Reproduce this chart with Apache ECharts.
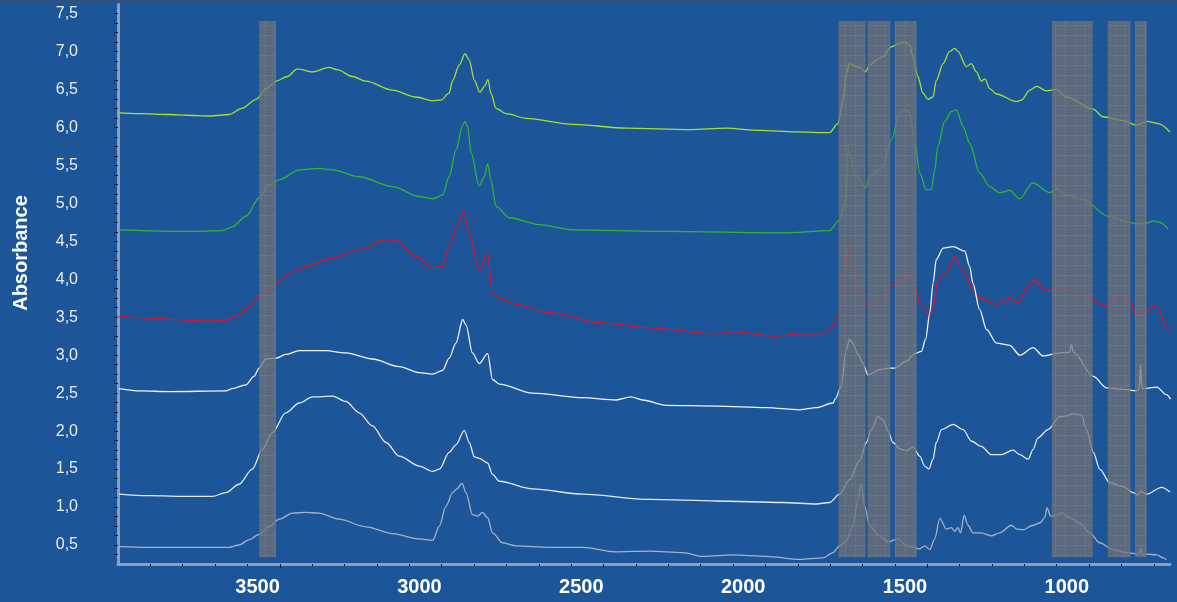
<!DOCTYPE html>
<html>
<head>
<meta charset="utf-8">
<title>Absorbance spectra</title>
<script src="https://cdn.jsdelivr.net/npm/echarts@6/dist/echarts.min.js"></script>
<style>
  html, body { margin: 0; padding: 0; background: #1c5699; }
  #chart { width: 1177px; height: 602px; }
</style>
</head>
<body>
<div id="chart"></div>
<script>
// Wavenumber (cm-1) / absorbance pairs for each spectrum, top to bottom
const spectrumLime = [[3999,6.19],[3935,6.18],[3842,6.17],[3787,6.16],[3716,6.15],[3657,6.17],[3617,6.25],[3573,6.37],[3542,6.51],[3511,6.61],[3477,6.67],[3446,6.77],[3399,6.73],[3348,6.79],[3322,6.76],[3276,6.67],[3234,6.61],[3152,6.49],[3080,6.40],[3028,6.35],[3002,6.36],[2977,6.45],[2966,6.62],[2946,6.82],[2928,6.97],[2915,6.89],[2899,6.62],[2882,6.46],[2868,6.54],[2857,6.63],[2848,6.45],[2832,6.25],[2801,6.18],[2739,6.12],[2595,6.04],[2430,5.99],[2234,5.97],[2121,5.99],[2018,5.96],[1905,5.94],[1802,5.93],[1776,6.05],[1760,6.36],[1750,6.71],[1740,6.84],[1719,6.80],[1709,6.79],[1691,6.73],[1678,6.82],[1657,6.89],[1637,6.93],[1611,7.06],[1585,7.11],[1570,7.13],[1554,7.08],[1544,6.93],[1529,6.67],[1513,6.45],[1498,6.37],[1482,6.40],[1472,6.62],[1451,6.84],[1431,7.00],[1415,7.04],[1405,7.00],[1379,6.80],[1364,6.84],[1348,6.73],[1333,6.61],[1322,6.64],[1307,6.51],[1286,6.44],[1224,6.34],[1209,6.36],[1183,6.49],[1162,6.54],[1132,6.48],[1101,6.50],[1070,6.40],[987,6.24],[957,6.14],[895,6.09],[853,6.03],[822,6.08],[786,6.05],[750,5.94]];

const spectrumGreen = [[3997,4.65],[3786,4.63],[3678,4.64],[3647,4.69],[3605,4.83],[3564,5.07],[3533,5.24],[3502,5.31],[3440,5.44],[3379,5.46],[3337,5.44],[3255,5.35],[3152,5.22],[3069,5.09],[3028,5.06],[2997,5.11],[2977,5.35],[2956,5.70],[2935,6.03],[2928,6.08],[2920,6.01],[2909,5.66],[2884,5.23],[2868,5.35],[2858,5.52],[2848,5.31],[2832,4.96],[2791,4.81],[2698,4.72],[2595,4.65],[2307,4.63],[1946,4.61],[1802,4.64],[1771,4.78],[1750,5.05],[1745,5.70],[1740,5.66],[1724,5.40],[1709,5.31],[1691,5.20],[1678,5.35],[1657,5.42],[1637,5.48],[1611,5.83],[1585,6.19],[1570,6.24],[1554,6.19],[1539,5.83],[1523,5.40],[1503,5.18],[1487,5.18],[1477,5.44],[1467,5.75],[1446,6.08],[1425,6.21],[1410,6.23],[1389,6.01],[1369,5.79],[1338,5.40],[1307,5.22],[1276,5.14],[1245,5.17],[1214,5.06],[1174,5.27],[1121,5.14],[1101,5.19],[1070,5.11],[1019,5.05],[941,4.83],[874,4.75],[853,4.73],[822,4.74],[802,4.77],[781,4.75],[756,4.66]];

const spectrumRed = [[3997,3.51],[3904,3.49],[3781,3.46],[3708,3.45],[3667,3.46],[3626,3.53],[3595,3.64],[3564,3.77],[3512,3.95],[3461,4.10],[3420,4.17],[3337,4.28],[3255,4.39],[3172,4.52],[3141,4.51],[3080,4.30],[3028,4.15],[2997,4.17],[2977,4.43],[2951,4.72],[2932,4.89],[2915,4.59],[2884,4.13],[2858,4.33],[2843,3.82],[2822,3.75],[2770,3.67],[2667,3.56],[2513,3.43],[2358,3.36],[2152,3.28],[2101,3.31],[1972,3.25],[1894,3.28],[1822,3.28],[1791,3.38],[1771,3.56],[1755,4.08],[1743,4.44],[1730,4.17],[1709,3.86],[1683,3.65],[1657,3.71],[1606,3.92],[1564,4.07],[1544,3.99],[1523,3.69],[1492,3.52],[1482,3.64],[1467,3.99],[1441,4.10],[1415,4.30],[1400,4.19],[1379,4.04],[1359,3.86],[1338,3.75],[1286,3.67],[1245,3.75],[1219,3.69],[1193,3.88],[1168,3.99],[1142,3.88],[1121,3.84],[1101,3.89],[1049,3.84],[998,3.75],[946,3.64],[905,3.81],[874,3.71],[853,3.52],[833,3.53],[802,3.65],[786,3.62],[761,3.36],[750,3.30]];

const spectrumWhiteA = [[3997,2.56],[3930,2.53],[3842,2.52],[3667,2.53],[3647,2.56],[3605,2.61],[3580,2.72],[3564,2.83],[3543,2.95],[3512,2.96],[3482,3.01],[3440,3.06],[3358,3.06],[3296,3.03],[3214,2.95],[3131,2.85],[3069,2.77],[3028,2.75],[2997,2.80],[2977,2.96],[2956,3.16],[2935,3.47],[2925,3.40],[2905,3.03],[2884,2.89],[2858,3.02],[2843,2.68],[2822,2.62],[2719,2.50],[2564,2.44],[2461,2.41],[2415,2.45],[2379,2.41],[2307,2.34],[2152,2.33],[1997,2.31],[1894,2.28],[1843,2.31],[1791,2.37],[1783,2.43],[1766,2.59],[1750,3.07],[1740,3.21],[1730,3.16],[1714,3.01],[1699,2.90],[1683,2.74],[1647,2.81],[1616,2.83],[1601,2.83],[1564,2.92],[1539,3.02],[1518,3.05],[1505,3.21],[1492,3.56],[1482,3.95],[1472,4.26],[1451,4.41],[1420,4.43],[1384,4.37],[1369,4.17],[1359,3.95],[1338,3.60],[1317,3.34],[1286,3.16],[1245,3.13],[1214,3.00],[1173,3.10],[1142,2.99],[1090,3.03],[1060,3.04],[1054,3.15],[1049,3.04],[987,2.72],[946,2.57],[895,2.55],[853,2.53],[845,2.56],[841,2.88],[837,2.58],[833,2.56],[791,2.58],[761,2.48],[748,2.42]];

const spectrumWhiteB = [[3997,1.17],[3909,1.15],[3770,1.14],[3708,1.14],[3667,1.19],[3626,1.30],[3585,1.50],[3554,1.76],[3523,1.98],[3482,2.24],[3440,2.37],[3399,2.45],[3337,2.46],[3296,2.39],[3255,2.24],[3214,2.07],[3172,1.85],[3131,1.67],[3069,1.54],[3028,1.47],[3007,1.50],[2977,1.72],[2956,1.82],[2930,2.01],[2915,1.85],[2899,1.66],[2884,1.64],[2858,1.58],[2843,1.43],[2822,1.34],[2719,1.24],[2564,1.17],[2358,1.10],[2152,1.08],[1946,1.06],[1843,1.04],[1802,1.06],[1771,1.17],[1740,1.36],[1709,1.61],[1688,1.85],[1673,2.02],[1652,2.19],[1637,2.15],[1621,2.00],[1606,1.85],[1585,1.77],[1564,1.74],[1544,1.79],[1523,1.67],[1508,1.54],[1495,1.50],[1482,1.63],[1472,1.85],[1456,2.02],[1420,2.09],[1389,2.02],[1364,1.87],[1333,1.80],[1302,1.69],[1271,1.69],[1235,1.75],[1214,1.69],[1188,1.63],[1173,1.76],[1158,1.91],[1127,2.02],[1090,2.19],[1070,2.20],[1049,2.23],[1023,2.21],[1008,2.02],[987,1.72],[967,1.50],[936,1.32],[895,1.27],[864,1.19],[848,1.16],[841,1.21],[822,1.17],[776,1.26],[750,1.20]];

const spectrumGrey = [[3997,0.48],[3914,0.47],[3729,0.47],[3657,0.47],[3626,0.50],[3595,0.57],[3564,0.64],[3533,0.74],[3502,0.84],[3461,0.92],[3420,0.93],[3379,0.92],[3317,0.84],[3234,0.74],[3152,0.65],[3069,0.58],[3028,0.56],[3007,0.75],[2987,1.01],[2966,1.19],[2956,1.23],[2937,1.31],[2925,1.19],[2905,0.90],[2889,0.88],[2874,0.93],[2858,0.86],[2843,0.66],[2812,0.53],[2770,0.49],[2667,0.47],[2564,0.47],[2461,0.41],[2358,0.42],[2255,0.40],[2193,0.35],[2101,0.37],[1997,0.35],[1894,0.31],[1822,0.33],[1791,0.40],[1771,0.49],[1750,0.55],[1730,0.75],[1714,1.10],[1704,1.30],[1693,1.01],[1678,0.75],[1647,0.62],[1621,0.54],[1590,0.58],[1564,0.49],[1523,0.45],[1508,0.49],[1492,0.44],[1477,0.58],[1461,0.85],[1441,0.71],[1425,0.73],[1415,0.68],[1405,0.73],[1397,0.66],[1386,0.89],[1374,0.76],[1359,0.66],[1333,0.66],[1302,0.62],[1276,0.66],[1240,0.76],[1224,0.71],[1204,0.70],[1173,0.76],[1152,0.79],[1137,0.86],[1130,0.99],[1119,0.88],[1101,0.89],[1085,0.93],[1060,0.86],[1029,0.79],[998,0.66],[967,0.53],[926,0.44],[884,0.40],[846,0.38],[841,0.46],[836,0.38],[822,0.38],[791,0.37],[771,0.33],[761,0.31]];

// Highlighted wavenumber windows [from, to] and their vertical extent
const bands = [[3564,3512],[1774,1691],[1684,1614],[1600,1533],[1115,989],[942,872],[858,822]];
const bandTop = 7.4;
const bandBottom = 0.34;

// Axis labels
const wavenumberLabels = [3500, 3000, 2500, 2000, 1500, 1000];
const absorbanceLabels = [0.5, 1.0, 1.5, 2.0, 2.5, 3.0, 3.5, 4.0, 4.5, 5.0, 5.5, 6.0, 6.5, 7.0, 7.5];

// tick positions: every 100 cm-1 (longer every 500), every 0.125 absorbance
const xMinorTicks = [];
for (let w = 800; w <= 3900; w += 100) if (w % 500 !== 0) xMinorTicks.push(w);
const yTicks = [];
for (let k = 3; k <= 60; k++) yTicks.push(k * 0.125);

const FONT = "'Liberation Sans', Arial, Helvetica, sans-serif";

// textured grey fill for the highlighted windows
function makeBandPattern() {
  const c = document.createElement('canvas');
  c.width = 10; c.height = 10;
  const g = c.getContext('2d');
  g.fillStyle = 'rgba(112,112,118,0.72)';
  g.fillRect(0, 0, 10, 10);
  g.fillStyle = 'rgba(130,130,134,0.25)';
  for (let i = 0; i < 10; i += 2) {
    for (let j = (i / 2) % 2; j < 10; j += 2) g.fillRect(i, j, 1, 1);
  }
  g.fillStyle = 'rgba(140,132,132,0.35)';
  g.fillRect(5, 0, 1, 10);
  g.fillRect(0, 5, 10, 1);
  return c;
}
const bandPattern = makeBandPattern();

function spectrumSeries(name, data, color) {
  return {
    name: name,
    type: 'line',
    data: data,
    symbol: 'none',
    showSymbol: false,
    smooth: 0.3,
    smoothMonotone: 'x',
    silent: true,
    z: 2,
    lineStyle: { color: color, width: 1.3 },
    emphasis: { disabled: true }
  };
}

const chart = echarts.init(document.getElementById('chart'), null, { renderer: 'canvas' });

chart.setOption({
  animation: false,
  backgroundColor: '#1c5699',
  grid: { left: 118, right: 7, top: 4, bottom: 38, containLabel: false, outerBoundsMode: 'none' },
  xAxis: [
    {
      type: 'value',
      min: 750,
      max: 4000,
      inverse: true,
      axisLine: { show: true, lineStyle: { color: '#8a9fc1', width: 3 } },
      axisTick: { show: true, customValues: xMinorTicks, length: 2, lineStyle: { color: '#0d1b30', width: 1 } },
      axisLabel: {
        customValues: wavenumberLabels,
        formatter: v => String(v),
        align: 'right',
        margin: 13,
        color: '#ffffff',
        fontSize: 20,
        fontWeight: 'bold',
        fontFamily: FONT
      },
      splitLine: { show: false }
    },
    {
      type: 'value',
      min: 750,
      max: 4000,
      inverse: true,
      position: 'bottom',
      axisLine: { show: false },
      axisTick: { show: true, customValues: wavenumberLabels, length: 4, lineStyle: { color: '#0d1b30', width: 1 } },
      axisLabel: { show: false },
      splitLine: { show: false }
    }
  ],
  yAxis: {
    type: 'value',
    min: 0.25,
    max: 7.625,
    axisLine: { show: true, lineStyle: { color: '#8a9fc1', width: 3 } },
    axisTick: { show: true, customValues: yTicks, length: 4, lineStyle: { color: '#0d1b30', width: 1 } },
    axisLabel: {
      customValues: absorbanceLabels,
      formatter: v => v.toFixed(1).replace('.', ','),
      margin: 40,
      color: '#e6ecf5',
      fontSize: 16,
      fontFamily: FONT
    },
    splitLine: { show: false }
  },
  graphic: [
    {
      type: 'rect',
      left: 0, top: 0, z: 100,
      shape: { width: 1177, height: 5 },
      style: {
        fill: new echarts.graphic.LinearGradient(0, 0, 0, 1, [
          { offset: 0, color: '#3a4e6e' },
          { offset: 1, color: 'rgba(28,86,153,0)' }
        ])
      },
      silent: true
    },
    {
      type: 'text',
      x: 21, y: 253,
      rotation: Math.PI / 2,
      z: 100,
      style: {
        text: 'Absorbance',
        fill: '#ffffff',
        font: 'bold 20px ' + FONT,
        textAlign: 'center',
        textVerticalAlign: 'middle'
      },
      silent: true
    }
  ],
  series: [
    spectrumSeries('lime', spectrumLime, '#a6e12e'),
    spectrumSeries('green', spectrumGreen, '#35b337'),
    spectrumSeries('red', spectrumRed, '#dc1230'),
    spectrumSeries('whiteA', spectrumWhiteA, '#eef3fb'),
    spectrumSeries('whiteB', spectrumWhiteB, '#e2e9f5'),
    spectrumSeries('grey', spectrumGrey, '#a4b1c7'),
    {
      name: 'bands',
      type: 'custom',
      silent: true,
      z: 10,
      clip: false,
      data: bands.map(b => [b[0], b[1], bandTop, bandBottom]),
      encode: { x: [0, 1], y: [2, 3] },
      renderItem: function (params, api) {
        const p1 = api.coord([api.value(0), api.value(2)]);
        const p2 = api.coord([api.value(1), api.value(3)]);
        return {
          type: 'rect',
          shape: {
            x: Math.min(p1[0], p2[0]),
            y: Math.min(p1[1], p2[1]),
            width: Math.abs(p2[0] - p1[0]),
            height: Math.abs(p2[1] - p1[1])
          },
          style: { fill: { image: bandPattern, repeat: 'repeat' } }
        };
      }
    }
  ]
});
</script>
</body>
</html>
